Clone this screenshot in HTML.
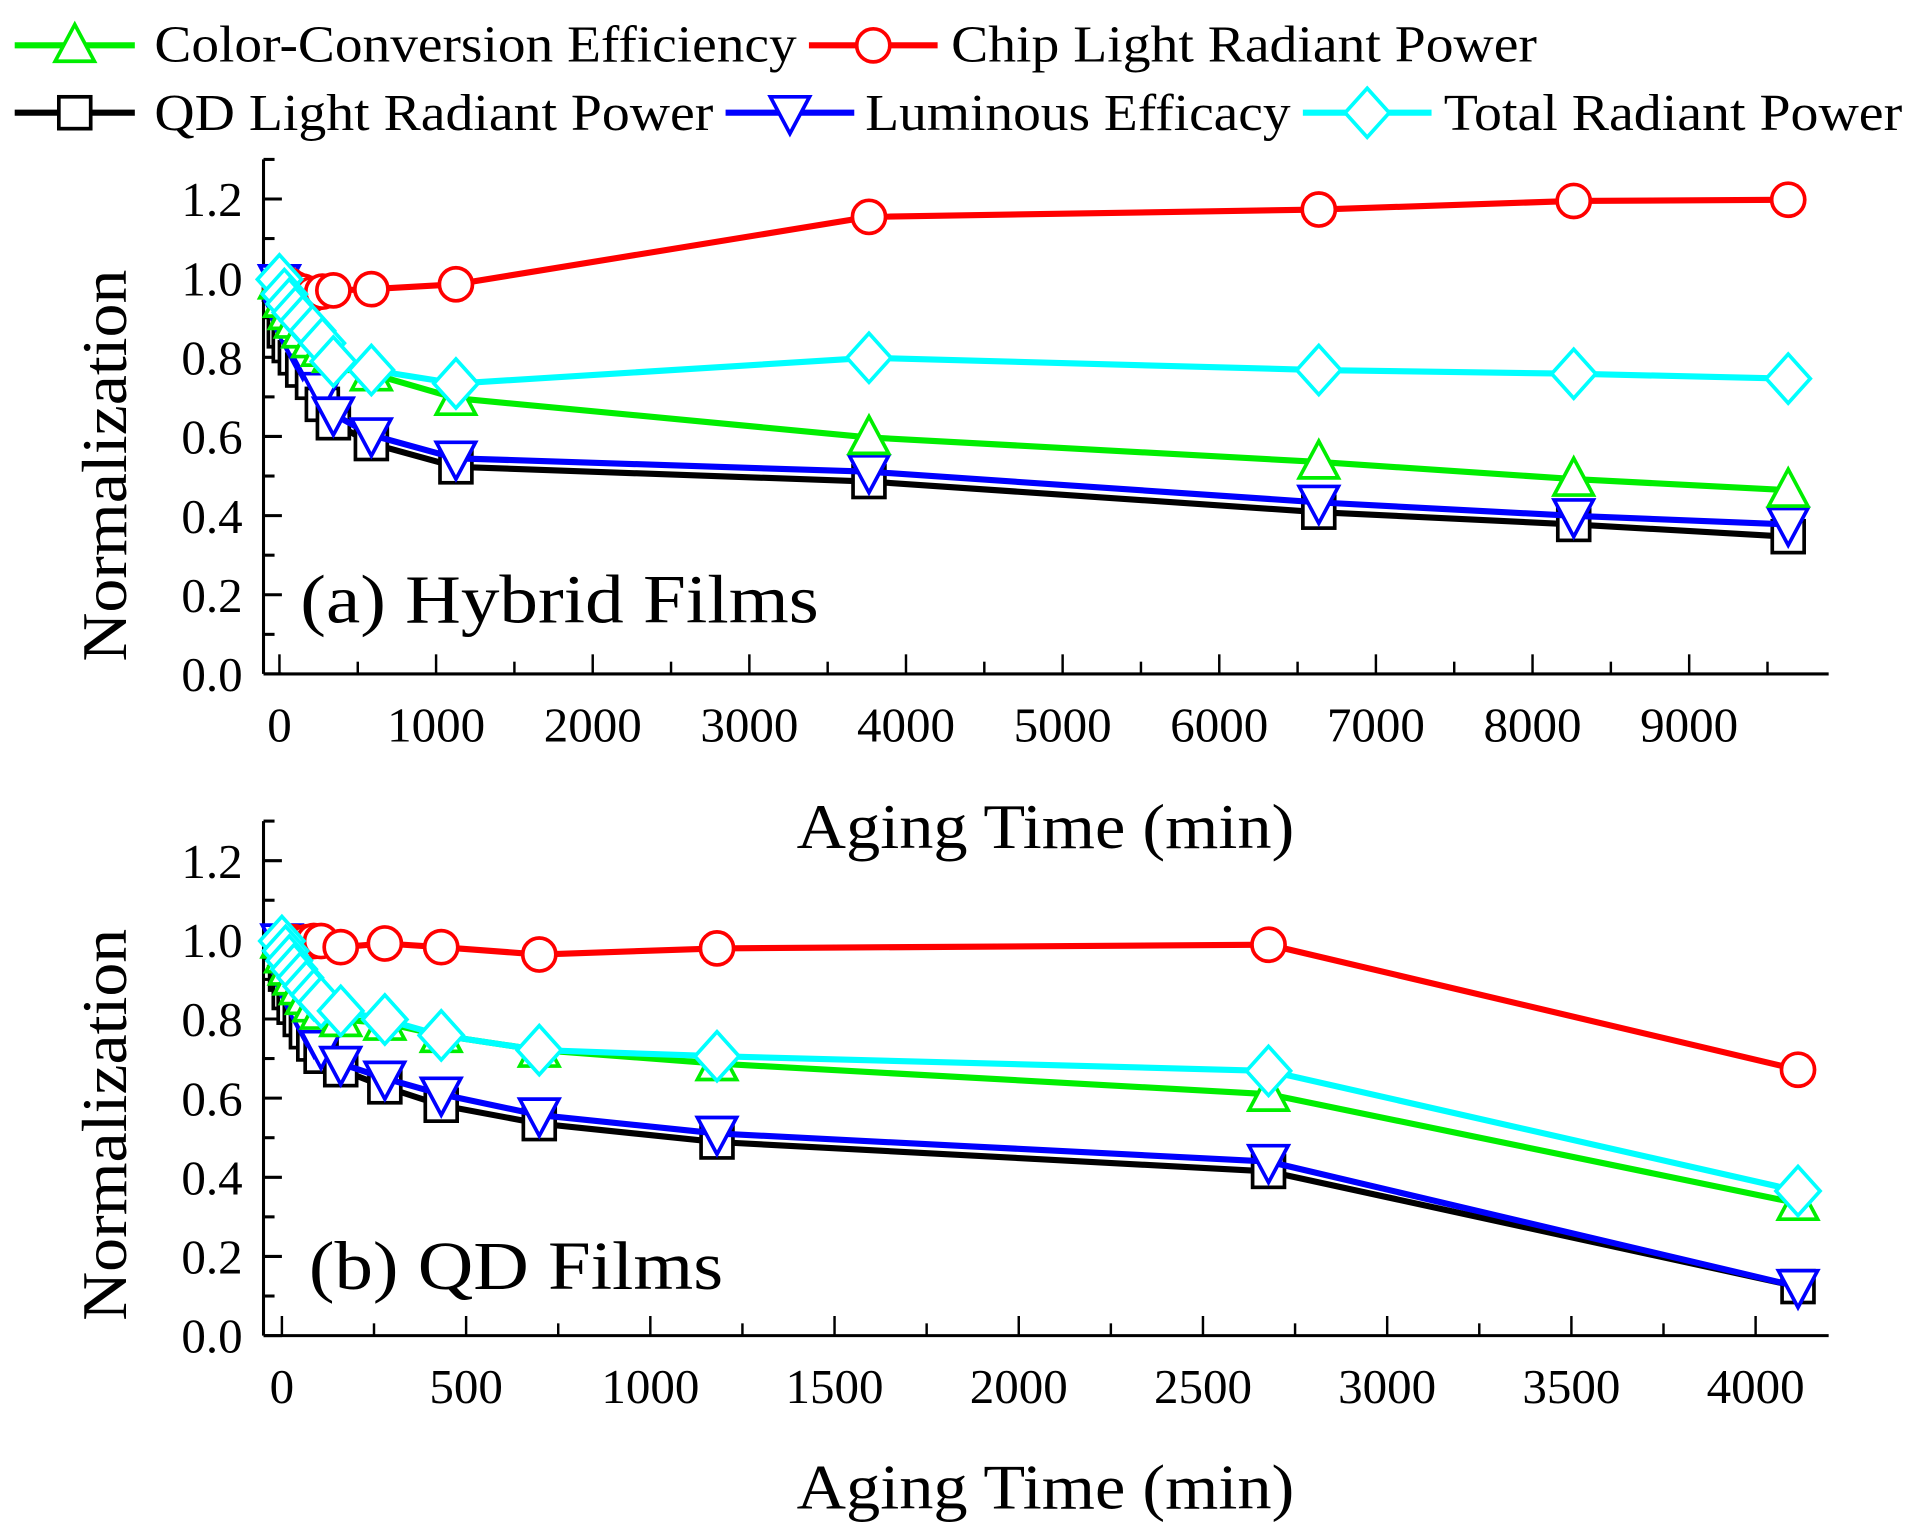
<!DOCTYPE html>
<html><head><meta charset="utf-8"><style>
html,body{margin:0;padding:0;background:#fff}
svg{display:block}
text{font-family:"Liberation Serif",serif;fill:#000}
</style></head><body>
<svg id="s" width="1912" height="1539" viewBox="0 0 1560 1256" preserveAspectRatio="none" xmlns="http://www.w3.org/2000/svg">
<g id="g"></g>
<text x="126" y="50" font-size="42" textLength="524" lengthAdjust="spacingAndGlyphs">Color-Conversion Efficiency</text>
<text x="776" y="50" font-size="42" textLength="478" lengthAdjust="spacingAndGlyphs">Chip Light Radiant Power</text>
<text x="126" y="106" font-size="42" textLength="456" lengthAdjust="spacingAndGlyphs">QD Light Radiant Power</text>
<text x="706" y="106" font-size="42" textLength="347" lengthAdjust="spacingAndGlyphs">Luminous Efficacy</text>
<text x="1178" y="106" font-size="42" textLength="374" lengthAdjust="spacingAndGlyphs">Total Radiant Power</text>
<text x="245" y="508" font-size="56" textLength="423" lengthAdjust="spacingAndGlyphs">(a) Hybrid Films</text>
<text x="252" y="1052" font-size="56" textLength="338" lengthAdjust="spacingAndGlyphs">(b) QD Films</text>
<text x="853" y="692" font-size="52" text-anchor="middle" textLength="406" lengthAdjust="spacingAndGlyphs">Aging Time (min)</text>
<text x="853" y="1231" font-size="52" text-anchor="middle" textLength="406" lengthAdjust="spacingAndGlyphs">Aging Time (min)</text>
<text transform="translate(103,380) rotate(-90)" font-size="52" text-anchor="middle" textLength="320" lengthAdjust="spacingAndGlyphs">Normalization</text>
<text transform="translate(103,918) rotate(-90)" font-size="52" text-anchor="middle" textLength="320" lengthAdjust="spacingAndGlyphs">Normalization</text>
</svg>
<script>
var NS="http://www.w3.org/2000/svg",G=document.getElementById("g");
function el(t,a){var e=document.createElementNS(NS,t);for(var k in a)e.setAttribute(k,a[k]);G.appendChild(e);return e;}
function txt(x,y,s,anchor){var e=el("text",{x:x,y:y,"font-size":40,"text-anchor":anchor});e.textContent=s;}
function marker(type,x,y,c){
 var sw=3;
 if(type=="c")el("circle",{cx:x,cy:y,r:13.5,fill:"#fff",stroke:c,"stroke-width":sw});
 else if(type=="s")el("rect",{x:x-13,y:y-13,width:26,height:26,fill:"#fff",stroke:c,"stroke-width":sw});
 else if(type=="u")el("polygon",{points:(x-16)+","+(y+13)+" "+(x+16)+","+(y+13)+" "+x+","+(y-17),fill:"#fff",stroke:c,"stroke-width":sw});
 else if(type=="d")el("polygon",{points:(x-16)+","+(y-13)+" "+(x+16)+","+(y-13)+" "+x+","+(y+17),fill:"#fff",stroke:c,"stroke-width":sw});
 else if(type=="m")el("polygon",{points:x+","+(y-20)+" "+(x+18)+","+y+" "+x+","+(y+20)+" "+(x-18)+","+y,fill:"#fff",stroke:c,"stroke-width":sw});
}
function series(xs,ys,type,c){
 var p=xs.map(function(x,i){return x+","+ys[i]}).join(" ");
 el("polyline",{points:p,fill:"none",stroke:c,"stroke-width":5,"stroke-linejoin":"round"});
 for(var i=0;i<xs.length;i++)marker(type,xs[i],ys[i],c);
}
[[12,110,37,"#00ee00","u"],[660,765,37,"#ff0000","c"],[12,110,92,"#000","s"],[592,697,92,"#0000ff","d"],[1063,1168,92,"#00ffff","m"]].forEach(function(l){
 el("line",{x1:l[0],y1:l[2],x2:l[1],y2:l[2],stroke:l[3],"stroke-width":5});marker(l[4],(l[0]+l[1])/2,l[2],l[3]);});
function axes(y0,xlabels,x0,dx){
 var top=y0-13*32.3;
 el("line",{x1:215,y1:top,x2:215,y2:y0,stroke:"#000","stroke-width":2.5});
 el("line",{x1:215,y1:y0,x2:1492,y2:y0,stroke:"#000","stroke-width":2.5});
 for(var i=0;i<=13;i++){var y=y0-i*32.3;el("line",{x1:215,y1:y,x2:i%2==0?230:224,y2:y,stroke:"#000","stroke-width":2.5});
  if(i%2==0)txt(198,y+14,(i/10).toFixed(1),"end");}
 for(var j=0;j<=2*xlabels.length;j++){var x=x0+j*dx/2;if(x>1492)break;
  el("line",{x1:x,y1:y0,x2:x,y2:y0-(j%2==0?16:10),stroke:"#000","stroke-width":2});
  if(j%2==0&&j/2<xlabels.length)txt(x,y0+55,xlabels[j/2],"middle");}
}
axes(550,["0","1000","2000","3000","4000","5000","6000","7000","8000","9000"],228,127.8);
axes(1090,["0","500","1000","1500","2000","2500","3000","3500","4000"],230,150.3);
var xa=[228,232,236,241,247,255,263,272,303,372,709,1076,1284,1459];
series(xa,[258,270,282,292,302,312,330,345,362,381,393,418,428,438].map(function(v,i){return i==0?232:v;}),"s","#000");
series(xa,[230,258,270,282,292,303,318,338,355,374,385,410,421,428],"d","#0000ff");
series(xa,[230,245,255,262,270,278,285,290,305,325,357,377,391,400],"u","#00ee00");
series(xa,[230,231,233,236,238,240,238,237,236,232,177,171,164,163],"c","#ff0000");
series(xa,[228,240,248,255,262,270,280,295,302,313,292,302,305,309],"m","#00ffff");
var xb=[230,233,236,240,245,250,256,262,278,314,360,440,585,1035,1467];
series(xb,[770,795,810,822,832,842,852,862,873,887,902,917,932,956,1050],"s","#000");
series(xb,[768,790,802,814,825,835,845,855,868,880,893,910,925,948,1050],"d","#0000ff");
series(xb,[768,780,790,798,806,814,820,826,832,835,845,857,868,893,982],"u","#00ee00");
series(xb,[768,768,769,769,770,769,768,768,773,770,773,779,774,771,873],"c","#ff0000");
series(xb,[768,776,784,791,798,805,812,818,825,832,845,857,862,874,972],"m","#00ffff");
</script>
</body></html>
